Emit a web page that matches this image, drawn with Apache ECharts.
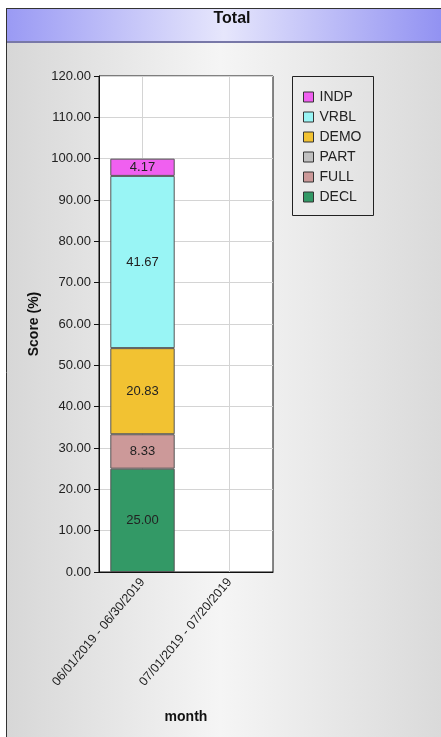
<!DOCTYPE html>
<html>
<head>
<meta charset="utf-8">
<script src="https://cdn.jsdelivr.net/npm/echarts@6/dist/echarts.min.js"></script>
<style>
  html, body { margin: 0; padding: 0; }
  #chart { width: 441px; height: 737px; }
</style>
</head>
<body>
<div id="chart"></div>
<script>
// Score breakdown per month period (stacked to 100%)
const categories = ['06/01/2019 - 06/30/2019', '07/01/2019 - 07/20/2019'];
const seriesNames = ['DECL', 'FULL', 'PART', 'DEMO', 'VRBL', 'INDP'];
const DECL = [25.00, 0];
const FULL = [8.33, 0];
const PART = [0, 0];
const DEMO = [20.83, 0];
const VRBL = [41.67, 0];
const INDP = [4.17, 0];
const yTicks = { min: 0, max: 120, interval: 10 };

const seriesValues = { DECL, FULL, PART, DEMO, VRBL, INDP };
const colors = {
  DECL: '#339966',
  FULL: '#cc9999',
  PART: '#c0c0c0',
  DEMO: '#f2c232',
  VRBL: '#99f5f5',
  INDP: '#f060f0'
};

const font = 'Liberation Sans, Arial, sans-serif';
const chart = echarts.init(document.getElementById('chart'));

// empty segments are skipped so they leave no outline on the axis
const series = seriesNames.map(name => ({
  name: name,
  type: 'bar',
  stack: 'total',
  barWidth: '74%',
  data: seriesValues[name].map(v => (v > 0 ? v : '-')),
  itemStyle: { color: colors[name], borderColor: '#555555', borderWidth: 1 },
  label: {
    show: true,
    position: 'inside',
    color: '#222222',
    fontFamily: font,
    fontSize: 13,
    formatter: p => (p.value > 0 ? p.value.toFixed(2) : '')
  },
  emphasis: { disabled: true }
}));

chart.setOption({
  animation: false,
  textStyle: { fontFamily: font },
  graphic: [
    // page background with soft horizontal shading
    {
      type: 'rect', z: -10, silent: true,
      shape: { x: 0, y: 0, width: 441, height: 737 },
      style: {
        fill: new echarts.graphic.LinearGradient(0, 0, 1, 0, [
          { offset: 0, color: '#d6d6d6' },
          { offset: 0.5, color: '#f5f5f5' },
          { offset: 1, color: '#dadada' }
        ])
      }
    },
    { type: 'rect', z: -9, silent: true, shape: { x: 0, y: 0, width: 441, height: 8 }, style: { fill: '#ffffff' } },
    { type: 'rect', z: -9, silent: true, shape: { x: 0, y: 0, width: 6, height: 737 }, style: { fill: '#ffffff' } },
    // header band
    {
      type: 'rect', z: -8, silent: true,
      shape: { x: 7, y: 9, width: 434, height: 33 },
      style: {
        fill: new echarts.graphic.LinearGradient(0, 0, 1, 0, [
          { offset: 0, color: '#9a9af4' },
          { offset: 0.5, color: '#e6e6fc' },
          { offset: 1, color: '#9292f2' }
        ])
      }
    },
    { type: 'rect', z: -7, silent: true, shape: { x: 7, y: 41, width: 434, height: 2 }, style: { fill: '#7878a8' } },
    // frame
    { type: 'line', z: -7, silent: true, shape: { x1: 6, y1: 8.5, x2: 441, y2: 8.5 }, style: { stroke: '#333333', lineWidth: 1 } },
    { type: 'line', z: -7, silent: true, shape: { x1: 6.5, y1: 8, x2: 6.5, y2: 737 }, style: { stroke: '#333333', lineWidth: 1 } },
    // legend box
    {
      type: 'rect', z: -6, silent: true,
      shape: { x: 292.5, y: 76.5, width: 81, height: 139 },
      style: { fill: 'rgba(0,0,0,0)', stroke: '#222222', lineWidth: 1 }
    }
  ],
  title: {
    text: 'Total',
    left: 227,
    textAlign: 'center',
    top: 6,
    textStyle: { fontFamily: font, fontSize: 16, fontWeight: 'bold', color: '#111111' }
  },
  legend: {
    orient: 'vertical',
    left: 303,
    top: 90,
    padding: 0,
    itemGap: 6,
    itemWidth: 10,
    itemHeight: 10,
    icon: 'rect',
    data: ['INDP', 'VRBL', 'DEMO', 'PART', 'FULL', 'DECL'],
    itemStyle: { borderColor: '#333333', borderWidth: 1 },
    textStyle: { fontFamily: font, fontSize: 14, color: '#222222', lineHeight: 14, padding: [0, 0, 0, 1] },
    selectedMode: false
  },
  grid: {
    left: 99, top: 76, right: 168, bottom: 165,
    show: true, backgroundColor: '#ffffff', borderColor: '#111111', borderWidth: 1
  },
  xAxis: {
    type: 'category',
    data: categories,
    name: 'month',
    nameLocation: 'middle',
    nameGap: 138,
    nameTextStyle: { fontFamily: font, fontSize: 14, fontWeight: 'bold', color: '#111111' },
    axisLine: { lineStyle: { color: '#111111' } },
    axisTick: { alignWithLabel: true, length: 5, lineStyle: { color: '#111111' } },
    axisLabel: { rotate: 50, margin: 8, fontFamily: font, fontSize: 12.5, color: '#222222' },
    splitLine: { show: true, alignWithLabel: true, lineStyle: { color: '#d4d4d4' } }
  },
  yAxis: {
    type: 'value',
    min: yTicks.min,
    max: yTicks.max,
    interval: yTicks.interval,
    name: 'Score (%)',
    nameLocation: 'middle',
    nameGap: 58,
    nameTextStyle: { fontFamily: font, fontSize: 14, fontWeight: 'bold', color: '#111111' },
    axisLine: { show: true, lineStyle: { color: '#111111' } },
    axisTick: { show: true, length: 5, lineStyle: { color: '#111111' } },
    axisLabel: { margin: 8, fontFamily: font, fontSize: 13, color: '#222222', formatter: v => v.toFixed(2) },
    splitLine: { show: true, lineStyle: { color: '#d4d4d4' } }
  },
  series: series
});
</script>
</body>
</html>
